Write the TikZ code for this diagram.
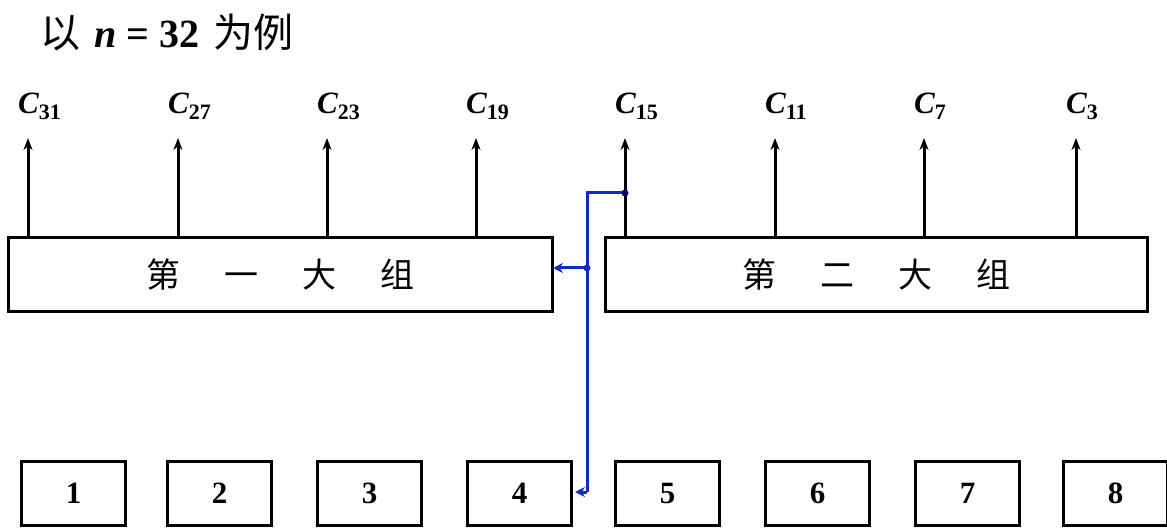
\documentclass[tikz,border=0pt]{standalone}
\usepackage{fontspec}
\usetikzlibrary{arrows.meta}
\setmainfont{Liberation Serif}
\newfontfamily\cjk{Noto Sans CJK SC}
\definecolor{lnblue}{RGB}{20,40,200}
\begin{document}
\begin{tikzpicture}[x=1pt,y=-1pt,
  big/.style={draw,line width=3pt,minimum width=544pt,minimum height=74pt,anchor=north west,inner sep=0pt,font=\cjk\fontsize{34}{34}\selectfont},
  sm/.style={draw,line width=3pt,minimum width=104pt,minimum height=64pt,anchor=north west,inner sep=0pt,font=\bfseries\fontsize{31}{31}\selectfont},
  outarr/.style={line width=3pt,-{Stealth[length=12pt,width=9pt]}},
  lab/.style={font=\bfseries\itshape\fontsize{31}{31}\selectfont,inner sep=0pt},
  blu/.style={draw=lnblue,line width=3pt}]
\useasboundingbox (0,0) rectangle (1167,529);
\clip (0,0) rectangle (1167,529);
\node[anchor=west,inner sep=0pt] (title) at (40,32) {{\cjk\fontsize{40}{40}\selectfont 以}\hspace{14pt}{\bfseries\fontsize{40}{40}\selectfont\itshape n\upshape{} = 32}\hspace{14pt}{\cjk\fontsize{40}{40}\selectfont 为例}};
\node[big] (g1) at (7,236) {第\hspace{1.3em}一\hspace{1.3em}大\hspace{1.3em}组};
\node[big,minimum width=542pt] (g2) at (604,236) {第\hspace{1.3em}二\hspace{1.3em}大\hspace{1.3em}组};
\foreach \x/\n in {28/31,178/27,327/23,476/19,625/15,775/11,924/7,1076/3}{
  \coordinate (b\n) at (\x,236);
  \coordinate (t\n) at (\x,138);
  \draw[outarr] (b\n) -- (t\n);
  \node[lab,anchor=west] (c\n) at (\x-10,106) {C\textsubscript{\upshape\fontsize{22}{22}\selectfont\n}};
}
\foreach \x/\n in {20/1,166/2,316/3,466/4,614/5,764/6,914/7,1062/8}{
  \node[sm] (s\n) at (\x,460) {\n};
}
\coordinate (d1) at (625,193);
\coordinate (k1) at (587,193);
\coordinate (d2) at (587,268);
\coordinate (k2) at (587,492);
\coordinate (e4) at (575,492);
\draw[blu] (d1) -- (k1) -- (k2);
\draw[blu,-{Stealth[length=10pt,width=10pt]}] (k2) -- (e4);
\draw[blu,-{Stealth[length=10pt,width=10pt]}] (d2) -- (553,268);
\fill[lnblue] (d2) circle (3.5pt);
\fill[black!60!blue] (d1) circle (3.5pt);
\end{tikzpicture}
\end{document}
